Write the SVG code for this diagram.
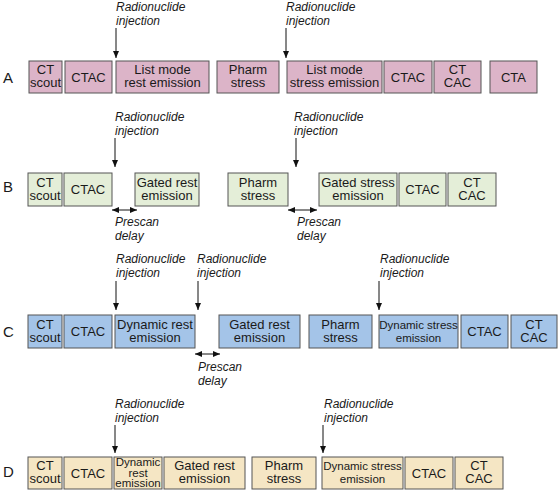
<svg xmlns="http://www.w3.org/2000/svg" width="558" height="491" viewBox="0 0 558 491">
<defs>
<marker id="ah" markerWidth="7" markerHeight="6" refX="7" refY="3" orient="auto-start-reverse" markerUnits="userSpaceOnUse">
<path d="M0,0 L7,3 L0,6 z" fill="#111"/>
</marker>
<style>
rect{stroke:#555;stroke-width:1}
.a rect{fill:#dcb4c8}
.b rect{fill:#e4eed8}
.c rect{fill:#a4c4e8}
.d rect{fill:#f5e6c4}
text{font-family:"Liberation Sans",Arial,sans-serif;fill:#1a1a1a}
.t{font-size:13px;text-anchor:middle}
.s{font-size:11.5px;text-anchor:middle}
.r{font-size:11.5px;text-anchor:middle}
.l{font-size:12px;font-style:italic}
.row{font-size:15px}
.ar line{stroke:#111;stroke-width:1}
</style>
</defs>
<rect width="558" height="491" fill="#fff" style="stroke:none"/>

<!-- Row labels -->
<text class="row" x="3" y="83">A</text>
<text class="row" x="3" y="192">B</text>
<text class="row" x="3" y="337">C</text>
<text class="row" x="3" y="477">D</text>

<!-- Row A -->
<g id="A-ctscout" class="a"><rect x="29" y="61" width="33" height="32"/><text class="t" x="45.5" y="74">CT</text><text class="t" x="45.5" y="87">scout</text></g>
<g id="A-ctac" class="a"><rect x="65" y="61" width="47" height="32"/><text class="t" x="88.5" y="82">CTAC</text></g>
<g id="A-listrest" class="a"><rect x="116" y="61" width="93" height="32"/><text class="t" x="162.5" y="74">List mode</text><text class="t" x="162.5" y="87">rest emission</text></g>
<g id="A-pharm" class="a"><rect x="217" y="61" width="62" height="32"/><text class="t" x="248" y="74">Pharm</text><text class="t" x="248" y="87">stress</text></g>
<g id="A-liststress" class="a"><rect x="287" y="61" width="95" height="32"/><text class="t" x="334.5" y="74">List mode</text><text class="t" x="334.5" y="87">stress emission</text></g>
<g id="A-ctac2" class="a"><rect x="384" y="61" width="48" height="32"/><text class="t" x="408" y="82">CTAC</text></g>
<g id="A-ctcac" class="a"><rect x="434" y="61" width="47" height="32"/><text class="t" x="457.5" y="74">CT</text><text class="t" x="457.5" y="87">CAC</text></g>
<g id="A-cta" class="a"><rect x="490" y="61" width="47" height="32"/><text class="t" x="513.5" y="82">CTA</text></g>

<!-- Row B -->
<g id="B-ctscout" class="b"><rect x="28" y="173" width="34" height="33"/><text class="t" x="45" y="186.5">CT</text><text class="t" x="45" y="199.5">scout</text></g>
<g id="B-ctac" class="b"><rect x="64" y="173" width="48" height="33"/><text class="t" x="88" y="194">CTAC</text></g>
<g id="B-gatedrest" class="b"><rect x="135" y="173" width="64" height="33"/><text class="t" x="167" y="186.5">Gated rest</text><text class="t" x="167" y="199.5">emission</text></g>
<g id="B-pharm" class="b"><rect x="228" y="173" width="60" height="33"/><text class="t" x="258" y="186.5">Pharm</text><text class="t" x="258" y="199.5">stress</text></g>
<g id="B-gatedstress" class="b"><rect x="319" y="173" width="78" height="33"/><text class="t" x="358" y="186.5">Gated stress</text><text class="t" x="358" y="199.5">emission</text></g>
<g id="B-ctac2" class="b"><rect x="399" y="173" width="47" height="33"/><text class="t" x="422.5" y="194">CTAC</text></g>
<g id="B-ctcac" class="b"><rect x="448" y="173" width="48" height="33"/><text class="t" x="472" y="186.5">CT</text><text class="t" x="472" y="199.5">CAC</text></g>

<!-- Row C -->
<g id="C-ctscout" class="c"><rect x="28" y="315" width="34" height="33"/><text class="t" x="45" y="328.5">CT</text><text class="t" x="45" y="341.5">scout</text></g>
<g id="C-ctac" class="c"><rect x="64" y="315" width="48" height="33"/><text class="t" x="88" y="336">CTAC</text></g>
<g id="C-dynrest" class="c"><rect x="115" y="315" width="80" height="33"/><text class="t" x="155" y="328.5">Dynamic rest</text><text class="t" x="155" y="341.5">emission</text></g>
<g id="C-gatedrest" class="c"><rect x="219" y="315" width="81" height="33"/><text class="t" x="259.5" y="328.5">Gated rest</text><text class="t" x="259.5" y="341.5">emission</text></g>
<g id="C-pharm" class="c"><rect x="309" y="315" width="63" height="33"/><text class="t" x="340.5" y="328.5">Pharm</text><text class="t" x="340.5" y="341.5">stress</text></g>
<g id="C-dynstress" class="c"><rect x="379" y="315" width="79" height="33"/><text class="s" x="418.5" y="328.5">Dynamic stress</text><text class="s" x="418.5" y="341.5">emission</text></g>
<g id="C-ctac2" class="c"><rect x="461" y="315" width="47" height="33"/><text class="t" x="484.5" y="336">CTAC</text></g>
<g id="C-ctcac" class="c"><rect x="511" y="315" width="46" height="33"/><text class="t" x="534" y="328.5">CT</text><text class="t" x="534" y="341.5">CAC</text></g>

<!-- Row D -->
<g id="D-ctscout" class="d"><rect x="28" y="457" width="34" height="32"/><text class="t" x="45" y="470">CT</text><text class="t" x="45" y="483">scout</text></g>
<g id="D-ctac" class="d"><rect x="64" y="457" width="48" height="32"/><text class="t" x="88" y="478">CTAC</text></g>
<g id="D-dynrest" class="d"><rect x="114" y="457" width="48" height="32"/><text class="r" x="138" y="466">Dynamic</text><text class="r" x="138" y="476.5">rest</text><text class="r" x="138" y="487">emission</text></g>
<g id="D-gatedrest" class="d"><rect x="164" y="457" width="81" height="32"/><text class="t" x="204.5" y="470">Gated rest</text><text class="t" x="204.5" y="483">emission</text></g>
<g id="D-pharm" class="d"><rect x="252" y="457" width="64" height="32"/><text class="t" x="284" y="470">Pharm</text><text class="t" x="284" y="483">stress</text></g>
<g id="D-dynstress" class="d"><rect x="322" y="457" width="81" height="32"/><text class="s" x="362.5" y="470">Dynamic stress</text><text class="s" x="362.5" y="483">emission</text></g>
<g id="D-ctac2" class="d"><rect x="405" y="457" width="48" height="32"/><text class="t" x="429" y="478">CTAC</text></g>
<g id="D-ctcac" class="d"><rect x="455" y="457" width="48" height="32"/><text class="t" x="479" y="470">CT</text><text class="t" x="479" y="483">CAC</text></g>

<!-- Labels -->
<g id="labels">
<text class="l" x="116" y="11">Radionuclide</text><text class="l" x="116" y="24.5">injection</text>
<text class="l" x="286" y="11">Radionuclide</text><text class="l" x="286" y="24.5">injection</text>
<text class="l" x="115" y="121">Radionuclide</text><text class="l" x="115" y="134.5">injection</text>
<text class="l" x="294" y="121">Radionuclide</text><text class="l" x="294" y="134.5">injection</text>
<text class="l" x="115" y="226">Prescan</text><text class="l" x="115" y="240">delay</text>
<text class="l" x="297" y="226">Prescan</text><text class="l" x="297" y="240">delay</text>
<text class="l" x="116" y="263">Radionuclide</text><text class="l" x="116" y="276.5">injection</text>
<text class="l" x="197" y="263">Radionuclide</text><text class="l" x="197" y="276.5">injection</text>
<text class="l" x="380" y="263">Radionuclide</text><text class="l" x="380" y="276.5">injection</text>
<text class="l" x="198" y="371">Prescan</text><text class="l" x="198" y="385">delay</text>
<text class="l" x="115" y="408">Radionuclide</text><text class="l" x="115" y="421.5">injection</text>
<text class="l" x="324" y="408">Radionuclide</text><text class="l" x="324" y="421.5">injection</text>
</g>

<!-- Connectors -->
<g id="connectors" class="ar">
<line x1="116" y1="28" x2="116" y2="58" marker-end="url(#ah)"/>
<line x1="286" y1="28" x2="286" y2="58" marker-end="url(#ah)"/>
<line x1="115" y1="138" x2="115" y2="167" marker-end="url(#ah)"/>
<line x1="296" y1="138" x2="296" y2="167" marker-end="url(#ah)"/>
<line x1="112" y1="210" x2="137" y2="210" marker-start="url(#ah)" marker-end="url(#ah)"/>
<line x1="288" y1="210" x2="317" y2="210" marker-start="url(#ah)" marker-end="url(#ah)"/>
<line x1="116" y1="281" x2="116" y2="310" marker-end="url(#ah)"/>
<line x1="198" y1="281" x2="198" y2="310" marker-end="url(#ah)"/>
<line x1="379" y1="281" x2="379" y2="310" marker-end="url(#ah)"/>
<line x1="195" y1="354" x2="220" y2="354" marker-start="url(#ah)" marker-end="url(#ah)"/>
<line x1="115" y1="425" x2="115" y2="453" marker-end="url(#ah)"/>
<line x1="323" y1="425" x2="323" y2="453" marker-end="url(#ah)"/>
</g>
</svg>
